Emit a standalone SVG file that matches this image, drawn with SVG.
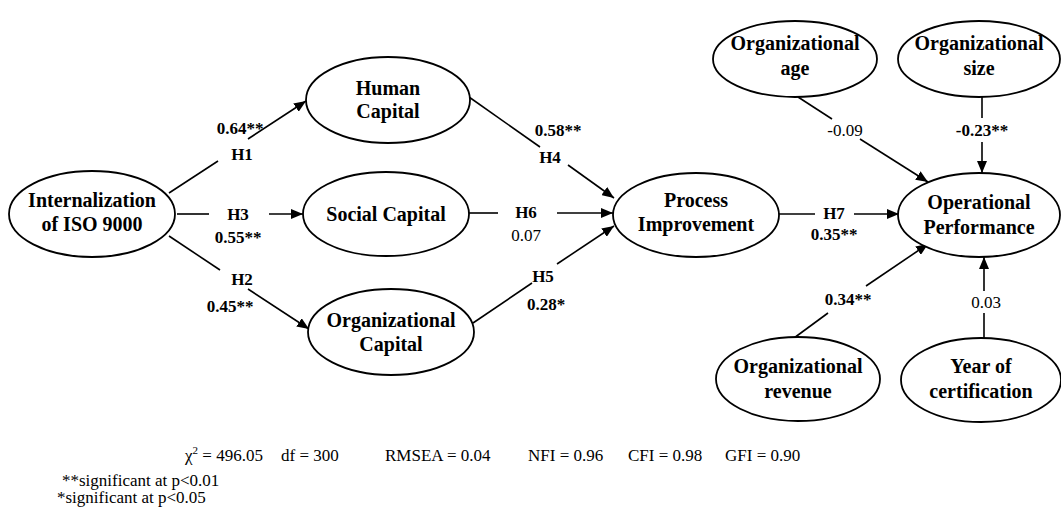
<svg xmlns="http://www.w3.org/2000/svg" width="1061" height="525" viewBox="0 0 1061 525">
<style>
.node ellipse{fill:#fff;stroke:#000;stroke-width:1.8}
.nt{font-family:"Liberation Serif","Times New Roman",serif;font-weight:bold;font-size:20px;text-anchor:middle;fill:#000}
.el{font-family:"Liberation Serif","Times New Roman",serif;font-weight:bold;font-size:17px;text-anchor:middle;dominant-baseline:central;fill:#000}
.el.n{font-weight:normal}
.conn line{stroke:#000;stroke-width:1.6}
.stat{font-family:"Liberation Serif","Times New Roman",serif;font-size:17px;fill:#000}
</style>
<defs>
<marker id="arr" viewBox="0 0 12 10" refX="12" refY="5" markerWidth="12" markerHeight="10" markerUnits="userSpaceOnUse" orient="auto">
<path d="M0,0 L12,5 L0,10 Z" fill="#000"/>
</marker>
</defs>
<rect width="1061" height="525" fill="#fff"/>

<g id="connectors" class="conn">
<line x1="169" y1="193" x2="218" y2="161"/>
<line x1="248" y1="139" x2="306" y2="101" marker-end="url(#arr)"/>
<line x1="177" y1="214" x2="209" y2="214"/>
<line x1="269" y1="214" x2="303" y2="214" marker-end="url(#arr)"/>
<line x1="169" y1="236" x2="220" y2="270"/>
<line x1="248" y1="289" x2="309" y2="329" marker-end="url(#arr)"/>
<line x1="469" y1="97" x2="540" y2="147"/>
<line x1="568" y1="165" x2="614" y2="198" marker-end="url(#arr)"/>
<line x1="469" y1="213" x2="498" y2="213"/>
<line x1="557" y1="213" x2="613" y2="213" marker-end="url(#arr)"/>
<line x1="473" y1="323" x2="532" y2="283"/>
<line x1="557" y1="264" x2="614" y2="226" marker-end="url(#arr)"/>
<line x1="779" y1="214" x2="815" y2="214"/>
<line x1="854" y1="214" x2="899" y2="214" marker-end="url(#arr)"/>
<line x1="798" y1="97" x2="832" y2="119"/>
<line x1="860" y1="139" x2="928" y2="182" marker-end="url(#arr)"/>
<line x1="982" y1="97" x2="982" y2="118"/>
<line x1="982" y1="142" x2="982" y2="173" marker-end="url(#arr)"/>
<line x1="794" y1="338" x2="828" y2="313"/>
<line x1="866" y1="286" x2="928" y2="244" marker-end="url(#arr)"/>
<line x1="984" y1="339" x2="984" y2="313"/>
<line x1="984" y1="291" x2="984" y2="257" marker-end="url(#arr)"/>
</g>

<g id="edge-labels">
<text class="el" x="240" y="128">0.64**</text>
<text class="el" x="242" y="154">H1</text>
<text class="el" x="238" y="214">H3</text>
<text class="el" x="238" y="237">0.55**</text>
<text class="el" x="242" y="279">H2</text>
<text class="el" x="230" y="306">0.45**</text>
<text class="el" x="558" y="130">0.58**</text>
<text class="el" x="550" y="157">H4</text>
<text class="el" x="526" y="212">H6</text>
<text class="el n" x="526" y="235">0.07</text>
<text class="el" x="543" y="276">H5</text>
<text class="el" x="546" y="304">0.28*</text>
<text class="el" x="834" y="213">H7</text>
<text class="el" x="834" y="234">0.35**</text>
<text class="el n" x="845" y="130">-0.09</text>
<text class="el" x="982" y="130">-0.23**</text>
<text class="el" x="848" y="299">0.34**</text>
<text class="el n" x="986" y="302">0.03</text>
</g>

<g id="n-intl" class="node"><ellipse cx="92" cy="214" rx="83" ry="43"/><text class="nt" x="92" y="207">Internalization</text><text class="nt" x="92" y="231">of ISO 9000</text></g>
<g id="n-human" class="node"><ellipse cx="388" cy="100" rx="82" ry="43"/><text class="nt" x="388" y="95">Human</text><text class="nt" x="388" y="118">Capital</text></g>
<g id="n-social" class="node"><ellipse cx="386" cy="214" rx="83" ry="42"/><text class="nt" x="386" y="221">Social Capital</text></g>
<g id="n-orgcap" class="node"><ellipse cx="391" cy="332" rx="83" ry="43"/><text class="nt" x="391" y="327">Organizational</text><text class="nt" x="391" y="351">Capital</text></g>
<g id="n-proc" class="node"><ellipse cx="696" cy="215" rx="83" ry="42"/><text class="nt" x="696" y="207">Process</text><text class="nt" x="696" y="231">Improvement</text></g>
<g id="n-oper" class="node"><ellipse cx="979" cy="215" rx="81" ry="42"/><text class="nt" x="979" y="209">Operational</text><text class="nt" x="979" y="234">Performance</text></g>
<g id="n-age" class="node"><ellipse cx="795" cy="59" rx="82" ry="38"/><text class="nt" x="795" y="50">Organizational</text><text class="nt" x="795" y="75">age</text></g>
<g id="n-size" class="node"><ellipse cx="979" cy="59" rx="81" ry="38"/><text class="nt" x="979" y="50">Organizational</text><text class="nt" x="979" y="75">size</text></g>
<g id="n-revenue" class="node"><ellipse cx="798" cy="379" rx="82" ry="42"/><text class="nt" x="798" y="373">Organizational</text><text class="nt" x="798" y="398">revenue</text></g>
<g id="n-year" class="node"><ellipse cx="981" cy="380" rx="80" ry="42"/><text class="nt" x="981" y="373">Year of</text><text class="nt" x="981" y="398">certification</text></g>

<g id="stats">
<text class="stat" x="185" y="461">χ<tspan font-size="11" dy="-7">2</tspan><tspan dy="7"> =  496.05</tspan></text>
<text class="stat" x="281" y="461">df = 300</text>
<text class="stat" x="385" y="461">RMSEA = 0.04</text>
<text class="stat" x="528" y="461">NFI = 0.96</text>
<text class="stat" x="628" y="461">CFI = 0.98</text>
<text class="stat" x="725" y="461">GFI = 0.90</text>
<text class="stat" x="62" y="486">**significant at p&lt;0.01</text>
<text class="stat" x="57" y="503">*significant at p&lt;0.05</text>
</g>
</svg>
